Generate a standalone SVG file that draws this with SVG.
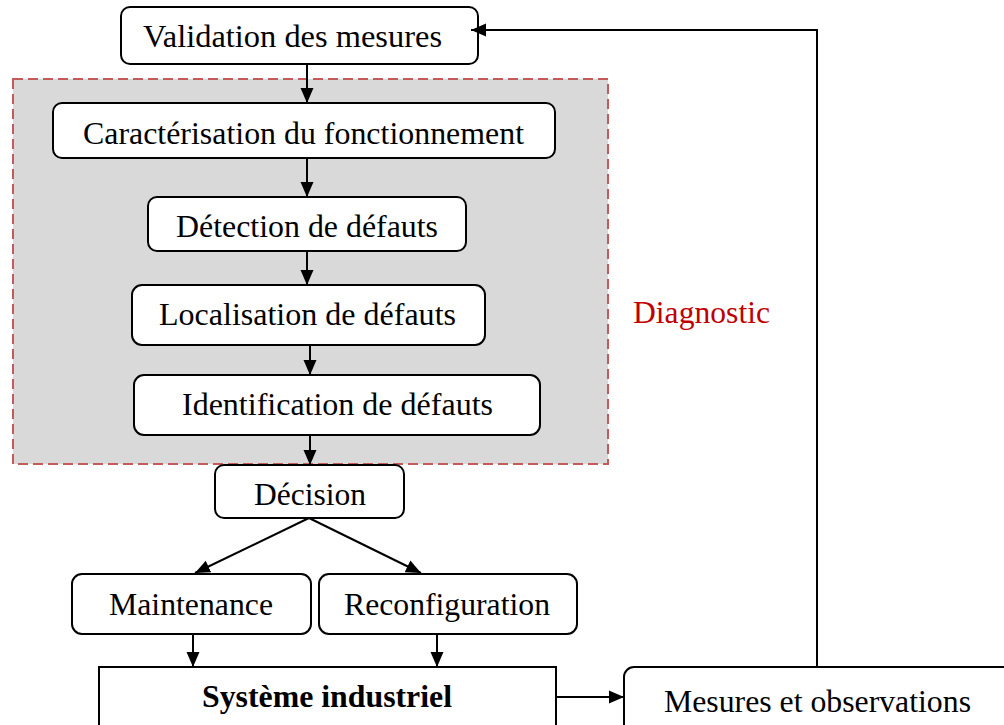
<svg xmlns="http://www.w3.org/2000/svg" width="1004" height="725" viewBox="0 0 1004 725">
  <defs>
    <marker id="arrow" markerUnits="userSpaceOnUse" markerWidth="16" markerHeight="14" refX="15" refY="7" orient="auto">
      <path d="M0,0.5 L15,7 L0,13.5 z" fill="#000"/>
    </marker>
    <style>
      .box { fill: #fff; stroke: #000; stroke-width: 2; }
      .lbl { font-family: "Liberation Serif", "Times New Roman", serif; font-size: 31px; fill: #000; }
      .bold { font-weight: bold; }
      .conn { fill: none; stroke: #000; stroke-width: 2; marker-end: url(#arrow); }
    </style>
  </defs>
  <rect width="1004" height="725" fill="#fff"/>

  <!-- diagnostic zone -->
  <g id="diagnostic-zone">
    <rect x="13" y="79" width="595" height="385" fill="#d9d9d9" stroke="#c55a5a" stroke-width="2" stroke-dasharray="10,5"/>
    <text class="lbl" x="633" y="323" textLength="137" lengthAdjust="spacingAndGlyphs" style="fill:#c00000">Diagnostic</text>
  </g>

  <g id="validation">
    <rect class="box" x="121" y="7" width="357" height="57" rx="9"/>
    <text class="lbl" x="143" y="47" textLength="299" lengthAdjust="spacingAndGlyphs">Validation des mesures</text>
  </g>
  <g id="caracterisation">
    <rect class="box" x="53" y="103" width="502" height="55" rx="9"/>
    <text class="lbl" x="83" y="144" textLength="441" lengthAdjust="spacingAndGlyphs">Caractérisation du fonctionnement</text>
  </g>
  <g id="detection">
    <rect class="box" x="148" y="197" width="318" height="54" rx="9"/>
    <text class="lbl" x="176" y="237" textLength="262" lengthAdjust="spacingAndGlyphs">Détection de défauts</text>
  </g>
  <g id="localisation">
    <rect class="box" x="132" y="285" width="353" height="60" rx="10"/>
    <text class="lbl" x="159" y="325" textLength="297" lengthAdjust="spacingAndGlyphs">Localisation de défauts</text>
  </g>
  <g id="identification">
    <rect class="box" x="134" y="375" width="406" height="60" rx="10"/>
    <text class="lbl" x="182" y="415" textLength="311" lengthAdjust="spacingAndGlyphs">Identification de défauts</text>
  </g>
  <g id="decision">
    <rect class="box" x="215" y="465" width="189" height="53" rx="9"/>
    <text class="lbl" x="254" y="505" textLength="112" lengthAdjust="spacingAndGlyphs">Décision</text>
  </g>
  <g id="maintenance">
    <rect class="box" x="72" y="574" width="239" height="60" rx="10"/>
    <text class="lbl" x="109" y="615" textLength="164" lengthAdjust="spacingAndGlyphs">Maintenance</text>
  </g>
  <g id="reconfiguration">
    <rect class="box" x="319" y="574" width="258" height="60" rx="10"/>
    <text class="lbl" x="344" y="615" textLength="206" lengthAdjust="spacingAndGlyphs">Reconfiguration</text>
  </g>
  <g id="systeme">
    <rect class="box" x="99" y="667" width="457" height="70"/>
    <text class="lbl bold" x="202" y="707" textLength="250" lengthAdjust="spacingAndGlyphs">Système industriel</text>
  </g>
  <g id="mesures">
    <rect class="box" x="624" y="667" width="400" height="70" rx="10"/>
    <text class="lbl" x="664" y="712" textLength="307" lengthAdjust="spacingAndGlyphs">Mesures et observations</text>
  </g>

  <!-- connectors -->
  <g id="connectors">
    <line class="conn" x1="307" y1="64" x2="307" y2="103"/>
    <line class="conn" x1="307" y1="158" x2="307" y2="197"/>
    <line class="conn" x1="307" y1="251" x2="307" y2="285"/>
    <line class="conn" x1="310" y1="345" x2="310" y2="375"/>
    <line class="conn" x1="310" y1="435" x2="310" y2="465"/>
    <line class="conn" x1="309" y1="518" x2="195" y2="573"/>
    <line class="conn" x1="309" y1="518" x2="421" y2="573"/>
    <line class="conn" x1="193" y1="634" x2="193" y2="667"/>
    <line class="conn" x1="437" y1="634" x2="437" y2="667"/>
    <line class="conn" x1="556" y1="697" x2="624" y2="697"/>
    <polyline class="conn" points="817,667 817,30 471,30"/>
  </g>
</svg>
